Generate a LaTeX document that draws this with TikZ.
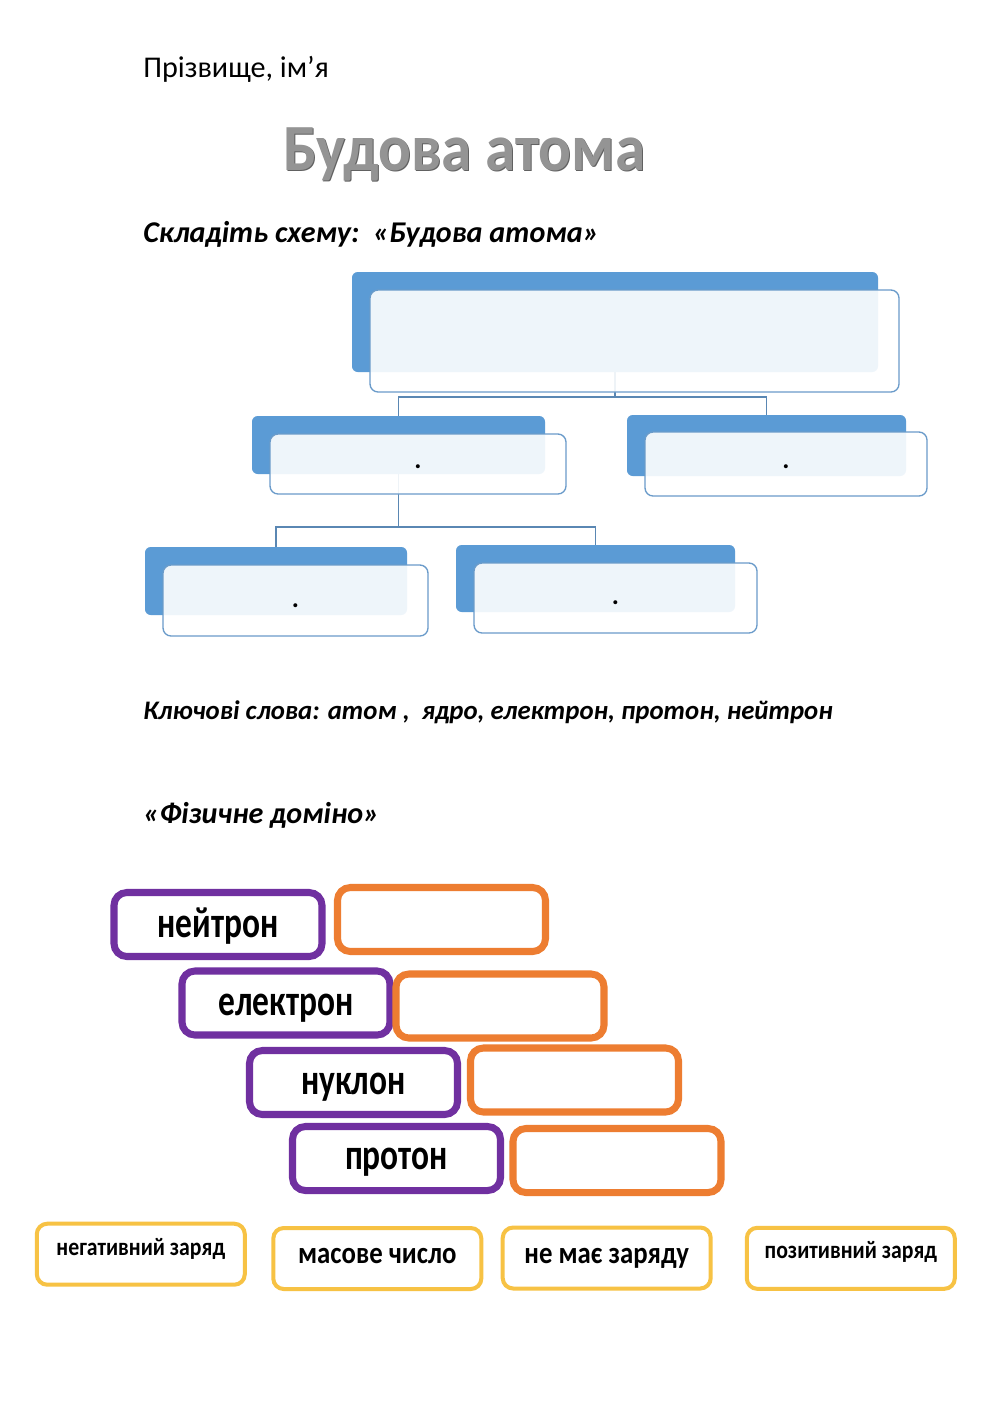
\documentclass[tikz,border=0pt]{standalone}
\usepackage{graphicx}
\usepackage{fontspec}
\setmainfont{Carlito}
\usetikzlibrary{backgrounds}
\definecolor{blockblue}{HTML}{5B9BD5}
\definecolor{edgeblue}{HTML}{6A9BCA}
\definecolor{linkblue}{HTML}{5A87B3}
\definecolor{dompurple}{HTML}{7030A0}
\definecolor{domorange}{HTML}{ED7D31}
\definecolor{domyellow}{HTML}{F7C244}
\newcommand{\pxu}{0.021cm}
\newlength{\pxlen}
\setlength{\pxlen}{0.021cm}
% text set with its baseline #1 px below the node centre, stretched by #2
\newcommand{\droplabel}[3]{\raisebox{-#1\pxlen}[0pt][0pt]{\scalebox{1}[#2]{#3}}}
\tikzset{
    darkblock/.style 2 args={fill=blockblue, rounded corners=0.12cm, inner sep=0pt,
        minimum width=#1*\pxu, minimum height=#2*\pxu},
    lightblock/.style 2 args={draw=edgeblue, line width=0.8pt, fill=white, fill opacity=0.9,
        text opacity=1, rounded corners=0.17cm, inner sep=0pt, font=\bfseries\fontsize{16}{18}\selectfont,
        minimum width=#1*\pxu, minimum height=#2*\pxu},
    link/.style={draw=linkblue, line width=0.8pt},
    termbox/.style={draw=dompurple, line width=4.2pt, rounded corners=0.27cm, inner sep=0pt,
        minimum width=208*\pxu, minimum height=64*\pxu, font=\bfseries\fontsize{20}{23}\selectfont},
    answerbox/.style={draw=domorange, line width=4.2pt, rounded corners=0.27cm, inner sep=0pt,
        minimum width=208*\pxu, minimum height=64*\pxu},
    cardbox/.style={draw=domyellow, line width=2.4pt, rounded corners=0.22cm, inner sep=0pt,
        minimum width=208*\pxu, minimum height=61*\pxu, font=\bfseries},
    heading/.style={anchor=base west, inner sep=0pt, font=\bfseries\itshape\fontsize{18}{21}\selectfont}
}
\begin{document}
\begin{tikzpicture}[x=\pxu, y=-\pxu]
    \useasboundingbox (0,0) rectangle (1000,1413);

    % headings
    \draw node[anchor=base west, inner sep=0pt, font=\fontsize{18}{21}\selectfont] (name) at (143,77) {Прізвище, ім’я};
    \draw node[anchor=base west, inner sep=0pt, text=black!62, font=\bfseries\fontsize{36.5}{42}\selectfont] (titleshade) at (284.2,171.5) {\scalebox{1}[1.08]{Будова атома}};
    \draw node[anchor=base west, inner sep=0pt, text=black!42, font=\bfseries\fontsize{36.5}{42}\selectfont] (title) at (283,170) {\scalebox{1}[1.08]{Будова атома}};
    \draw node[heading] (task) at (143,242) {Складіть схему:\ \ «Будова атома»};

    % scheme blocks
    \draw node[darkblock={526}{100}] (topDark) at (615,322) {};
    \draw node[lightblock={529}{102}] (topLight) at (634.5,341) {};
    \draw node[darkblock={293}{58}] (midLDark) at (398.5,445) {};
    \draw node[lightblock={296}{60}] (midLLight) at (418,464) {\droplabel{4}{1}{.}};
    \draw node[darkblock={279}{61}] (midRDark) at (766.5,445.5) {};
    \draw node[lightblock={282}{64}] (midRLight) at (786,464) {\droplabel{4}{1}{.}};
    \draw node[darkblock={262}{68}] (botLDark) at (276,581) {};
    \draw node[lightblock={265}{71}] (botLLight) at (295.5,600.5) {\droplabel{7}{1}{.}};
    \draw node[darkblock={279}{67}] (botRDark) at (595.5,578.5) {};
    \draw node[lightblock={283}{70}] (botRLight) at (615.5,598) {\droplabel{6}{1}{.}};

    \coordinate (joinA) at (0,397);
    \coordinate (joinB) at (0,527);
    \begin{pgfonlayer}{background}
        \fill[white] (0,0) rectangle (1000,1413);
        \draw[link] (topDark.center) -- (topDark.center |- joinA) -| (midLDark.north);
        \draw[link] (topDark.center |- joinA) -| (midRDark.north);
        \draw[link] (midLDark.center) -- (midLDark.center |- joinB) -| (botLDark.north);
        \draw[link] (midLDark.center |- joinB) -| (botRDark.north);
    \end{pgfonlayer}

    \draw node[heading, font=\bfseries\itshape\fontsize{16}{19}\selectfont] (keys) at (143,719) {Ключові слова: атом ,\ \ ядро, електрон, протон, нейтрон};
    \draw node[heading] (domino) at (143,823) {«Фізичне доміно»};

    % domino
    \draw node[termbox] (neutron) at (218,924.5) {\droplabel{13}{1.3}{нейтрон}};
    \draw node[answerbox] (neutronAns) at (441.5,919.5) {};
    \draw node[termbox] (electron) at (286,1003) {\droplabel{12}{1.3}{електрон}};
    \draw node[answerbox] (electronAns) at (500,1006) {};
    \draw node[termbox] (nucleon) at (353.5,1082.5) {\droplabel{12}{1.3}{нуклон}};
    \draw node[answerbox] (nucleonAns) at (574.5,1080) {};
    \draw node[termbox] (proton) at (396.5,1158.5) {\droplabel{10.5}{1.3}{протон}};
    \draw node[answerbox] (protonAns) at (617,1160.5) {};

    % cards
    \draw node[cardbox, font=\bfseries\fontsize{13}{15}\selectfont] (negative) at (140.8,1254.2) {\droplabel{1}{1.15}{негативний заряд}};
    \draw node[cardbox, font=\bfseries\fontsize{16}{18}\selectfont] (mass) at (377.3,1258.5) {\droplabel{5}{1.15}{масове число}};
    \draw node[cardbox, font=\bfseries\fontsize{16}{18}\selectfont] (nocharge) at (606.7,1258) {\droplabel{5}{1.15}{не має заряду}};
    \draw node[cardbox, font=\bfseries\fontsize{13}{15}\selectfont] (positive) at (850.8,1258.3) {\droplabel{0}{1.15}{позитивний заряд}};
\end{tikzpicture}
\end{document}
